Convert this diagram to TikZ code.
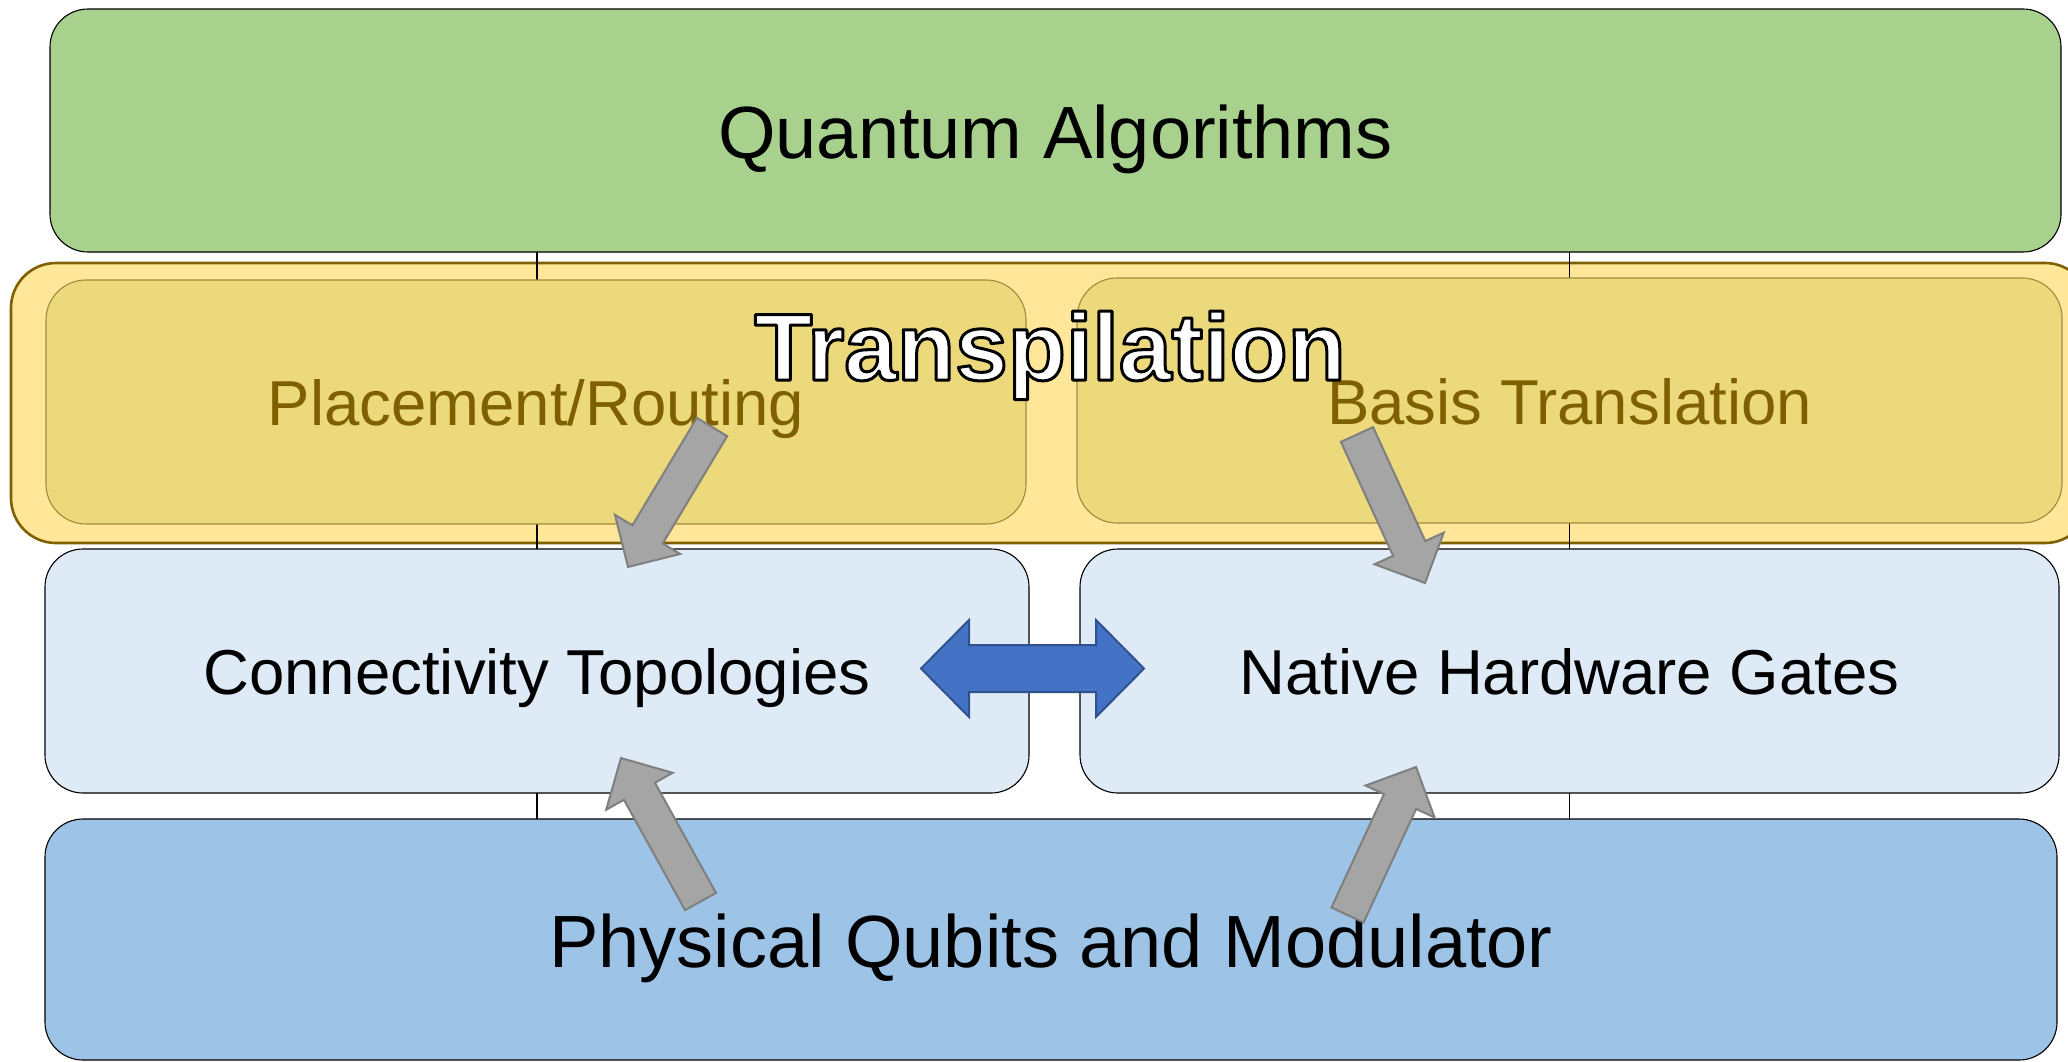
\documentclass[tikz,border=0pt]{standalone}
\usepackage{fontspec}
\setmainfont{Liberation Sans}
\usetikzlibrary{calc}
\pgfdeclarelayer{back}
\pgfdeclarelayer{mid}
\pgfsetlayers{back,mid,main}
\definecolor{greenF}{HTML}{A9D18E}
\definecolor{goldOut}{HTML}{FFE699}
\definecolor{goldIn}{HTML}{ECD97C}
\definecolor{goldLine}{HTML}{7F6000}
\definecolor{goldInLine}{HTML}{A08B3C}
\definecolor{textBrown}{HTML}{7F6000}
\definecolor{lightBlue}{HTML}{DEEBF7}
\definecolor{midBlue}{HTML}{9DC3E6}
\definecolor{arrGray}{HTML}{A5A5A5}
\definecolor{arrGrayLine}{HTML}{7F7F7F}
\definecolor{arrBlue}{HTML}{4472C4}
\definecolor{arrBlueLine}{HTML}{2F528F}
\newcommand\outlinedtext[1]{\textcolor{white}{\special{pdf:literal direct 0 G 2 Tr 3 w 1 j}#1\special{pdf:literal direct 0 Tr}}}
\newcommand\blkarrow[3]{%
  \coordinate (#1#2base) at ($(#2)!38pt!(#1)$);
  \draw[#3] ($(#1)!17.7pt!90:(#2)$) -- ($(#1#2base)!17.7pt!90:(#2)$) -- ($(#1#2base)!38pt!90:(#2)$) -- (#2)
    -- ($(#1#2base)!38pt!-90:(#2)$) -- ($(#1#2base)!17.7pt!-90:(#2)$) -- ($(#1)!17.7pt!-90:(#2)$) -- cycle;}
\begin{document}
\begin{tikzpicture}[x=1pt,y=-1pt,
  box/.style={draw=black, line width=1.1pt, rounded corners=38pt, inner sep=0pt, outer sep=0pt},
  big/.style={font=\fontsize{74}{80}\selectfont, text height=55.5pt, text depth=0pt},
  med/.style={font=\fontsize{63.5}{70}\selectfont, text height=47.6pt, text depth=0pt},
  goldbox/.style={draw=goldInLine, line width=1.1pt, fill=goldIn, rounded corners=40pt, inner sep=0pt, outer sep=0pt, text=textBrown},
  vline/.style={draw=black, line width=1.5pt},
  grayarr/.style={fill=arrGray, draw=arrGrayLine, line width=2pt, line join=miter},
  bluearr/.style={fill=arrBlue, draw=arrBlueLine, line width=2pt, line join=miter}]
\useasboundingbox (0,0) rectangle (2068,1061);
% layer boxes
\node[box, fill=greenF, big, minimum width=2011pt, minimum height=243pt] (alg) at (1055.5,130.5) {Quantum Algorithms};
\node[box, fill=midBlue, big, minimum width=2012pt, minimum height=241pt] (phys) at (1051,939.5) {Physical Qubits and Modulator};
\node[box, fill=lightBlue, med, minimum width=984pt, minimum height=244pt] (conn) at (537,671) {Connectivity Topologies};
\node[box, fill=lightBlue, med, minimum width=979pt, minimum height=244pt] (gates) at (1569.5,671) {Native Hardware Gates};
\node[goldbox, med, minimum width=980pt, minimum height=244pt] (place) at (536,402) {Placement/Routing};
\node[goldbox, med, minimum width=985pt, minimum height=245pt] (basis) at (1569.5,400.5) {Basis Translation};
% outer transpilation band (behind)
\begin{pgfonlayer}{back}
\fill[white] (0,0) rectangle (2068,1061);
\node[draw=goldLine, line width=2.6pt, fill=goldOut, rounded corners=45pt, inner sep=0pt,
      minimum width=2079pt, minimum height=280pt] (trans) at (1050.5,403) {};
\end{pgfonlayer}
% vertical connectors (between band and boxes)
\begin{pgfonlayer}{mid}
\draw[vline] (alg.south -| conn) -- (phys.north -| conn);
\draw[vline] (alg.south -| gates) -- (phys.north -| gates);
\end{pgfonlayer}
% title of the band
\node[anchor=base, inner sep=0pt, font=\fontsize{95}{100}\selectfont\bfseries] (translabel) at (1050,380)
  {\outlinedtext{Transpilation}};
% gray block arrows
\coordinate (a1t) at (712,427);    \coordinate (a1h) at (628,567);
\coordinate (a2t) at (1357,434.5); \coordinate (a2h) at (1425,583);
\coordinate (a3t) at (700.5,901.5);\coordinate (a3h) at (621,758);
\coordinate (a4t) at (1347.5,915); \coordinate (a4h) at (1416,767);
\blkarrow{a1t}{a1h}{grayarr}
\blkarrow{a2t}{a2h}{grayarr}
\blkarrow{a3t}{a3h}{grayarr}
\blkarrow{a4t}{a4h}{grayarr}
% blue double arrow between the two middle boxes
\coordinate (dl) at (921,668.5);
\coordinate (dr) at (1144,668.5);
\draw[bluearr] (dl) -- ++(48,-48.5) -- ++(0,25) -- ($(dr)+(-48,-23.5)$) -- ++(0,-25) -- (dr)
  -- ++(-48,48.5) -- ++(0,-25) -- ($(dl)+(48,23.5)$) -- ++(0,25) -- cycle;
\end{tikzpicture}
\end{document}
